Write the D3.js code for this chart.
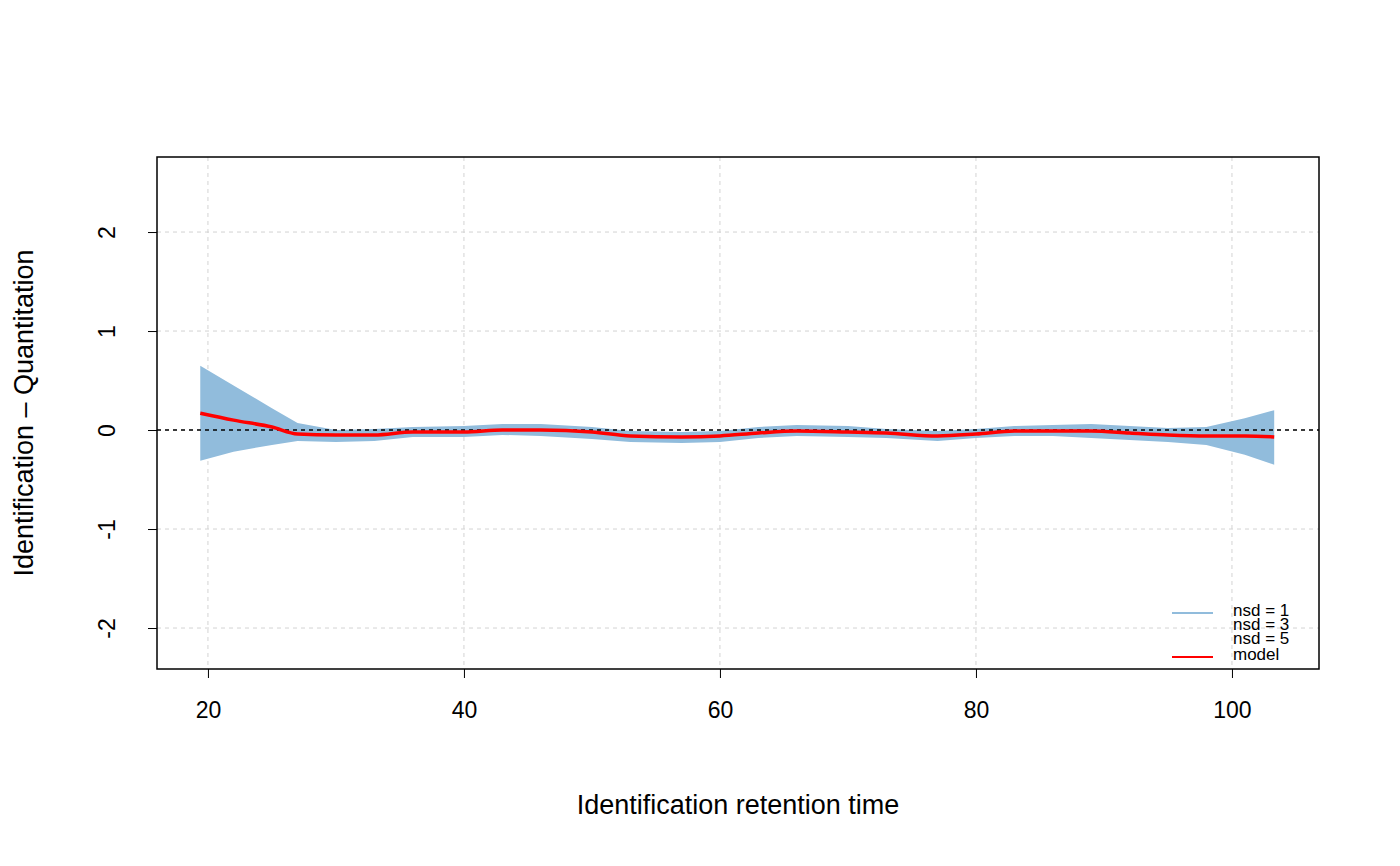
<!DOCTYPE html>
<html>
<head>
<meta charset="utf-8">
<script src="https://cdn.jsdelivr.net/npm/d3@7"></script>
<style>
  body { margin: 0; background: #fff; }
  text { font-family: "Liberation Sans", Arial, sans-serif; }
</style>
</head>
<body>
<script>
const rt = [19.4, 22, 25, 27, 30, 33, 36, 40, 43, 46, 50, 53, 57, 60, 63, 66, 70, 73, 77, 80, 83, 86, 89, 92, 95, 98, 101, 103.3];
const model = [0.17, 0.10, 0.03, -0.04, -0.05, -0.05, -0.02, -0.02, 0.00, 0.00, -0.02, -0.06, -0.07, -0.06, -0.03, -0.01, -0.02, -0.03, -0.06, -0.04, -0.01, -0.01, -0.01, -0.03, -0.05, -0.06, -0.06, -0.07];
const upper = [0.65, 0.45, 0.22, 0.07, 0.00, 0.01, 0.03, 0.04, 0.06, 0.06, 0.03, -0.01, -0.02, -0.01, 0.03, 0.05, 0.04, 0.01, -0.01, 0.01, 0.04, 0.05, 0.06, 0.04, 0.02, 0.03, 0.12, 0.20];
const lower = [-0.31, -0.22, -0.15, -0.11, -0.12, -0.11, -0.07, -0.07, -0.05, -0.06, -0.09, -0.12, -0.13, -0.12, -0.08, -0.06, -0.07, -0.08, -0.11, -0.08, -0.06, -0.06, -0.08, -0.10, -0.12, -0.15, -0.25, -0.35];
const xTicks = [20, 40, 60, 80, 100];
const yTicks = [-2, -1, 0, 1, 2];
const legendLabels = ["nsd = 1", "nsd = 3", "nsd = 5", "model"];

const w = 1400, h = 866;
const pLeft = 157, pRight = 1319, pTop = 157, pBottom = 669;
const band = "#91bcdc";

const x = d3.scaleLinear().domain([16.02, 106.8]).range([pLeft, pRight]);
const y = d3.scaleLinear().domain([-2.414, 2.758]).range([pBottom, pTop]);

const svg = d3.select("body").append("svg").attr("width", w).attr("height", h);

// grid
svg.append("g").selectAll("line").data(xTicks).join("line")
  .attr("x1", d => x(d)).attr("x2", d => x(d)).attr("y1", pTop).attr("y2", pBottom)
  .attr("stroke", "#d3d3d3").attr("stroke-dasharray", "4,4");
svg.append("g").selectAll("line").data(yTicks).join("line")
  .attr("x1", pLeft).attr("x2", pRight).attr("y1", d => y(d)).attr("y2", d => y(d))
  .attr("stroke", "#d3d3d3").attr("stroke-dasharray", "4,4");

const pts = rt.map((t, i) => ({ t, m: model[i], hi: upper[i], lo: lower[i] }));

// band
svg.append("path").datum(pts)
  .attr("d", d3.area().x(d => x(d.t)).y0(d => y(d.lo)).y1(d => y(d.hi)))
  .attr("fill", band);

// zero line
svg.append("line").attr("x1", pLeft).attr("x2", pRight).attr("y1", y(0)).attr("y2", y(0))
  .attr("stroke", "#000").attr("stroke-width", 1.5).attr("stroke-dasharray", "4,4");

// model
svg.append("path").datum(pts)
  .attr("d", d3.line().x(d => x(d.t)).y(d => y(d.m)).curve(d3.curveMonotoneX))
  .attr("fill", "none").attr("stroke", "red").attr("stroke-width", 3.5);

// box
svg.append("rect").attr("x", pLeft).attr("y", pTop).attr("width", pRight - pLeft).attr("height", pBottom - pTop)
  .attr("fill", "none").attr("stroke", "#000").attr("stroke-width", 1.5);

// axes
const xAxis = svg.append("g").attr("transform", `translate(0,${pBottom})`)
  .call(d3.axisBottom(x).tickValues(xTicks).tickSize(9).tickSizeOuter(0).tickPadding(24));
xAxis.select(".domain").remove();
xAxis.selectAll("text").attr("font-size", 23).attr("fill", "#000");

const yAxis = svg.append("g").attr("transform", `translate(${pLeft},0)`)
  .call(d3.axisLeft(y).tickValues(yTicks).tickSize(9).tickSizeOuter(0));
yAxis.select(".domain").remove();
yAxis.selectAll("text").attr("font-size", 23).attr("fill", "#000")
  .attr("text-anchor", "middle").attr("dy", 0).attr("x", 0)
  .attr("transform", "translate(-42,0) rotate(-90)")
  .text(d => d < 0 ? "-" + Math.abs(d) : d);

// titles
svg.append("text").attr("x", 738).attr("y", 814).attr("text-anchor", "middle")
  .attr("font-size", 27).text("Identification retention time");
svg.append("text").attr("transform", "translate(33,413) rotate(-90)").attr("text-anchor", "middle")
  .attr("font-size", 27).text("Identification \u2013 Quantitation");

// legend
const legendY = [616, 630, 644, 660];
const legendColor = [band, null, null, "red"];
const lg = svg.append("g");
legendLabels.forEach((lab, i) => {
  if (legendColor[i]) {
    lg.append("line").attr("x1", 1172).attr("x2", 1213).attr("y1", legendY[i] - 3).attr("y2", legendY[i] - 3)
      .attr("stroke", legendColor[i]).attr("stroke-width", 2);
  }
  lg.append("text").attr("x", 1233).attr("y", legendY[i]).attr("font-size", 17).text(lab);
});
</script>
</body>
</html>
